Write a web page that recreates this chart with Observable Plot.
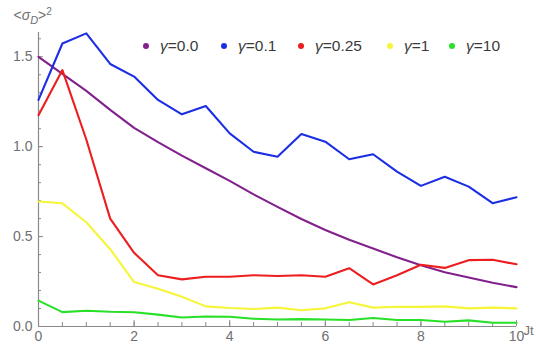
<!DOCTYPE html>
<html>
<head>
<meta charset="utf-8">
<script src="https://cdn.jsdelivr.net/npm/d3@7"></script>
<script src="https://cdn.jsdelivr.net/npm/@observablehq/plot@0.6"></script>
<style>
  html, body { margin: 0; padding: 0; background: #fff; }
  #wrap { position: relative; width: 536px; height: 349px; font-family: "Liberation Sans", Arial, sans-serif; }
  #legend { position: absolute; top: 0; left: 0; font-size: 15.5px; color: #3a3a3a; }
  #legend .item { position: absolute; top: 37px; display: flex; align-items: center; white-space: nowrap; height: 18px; }
  #legend .dot { width: 6px; height: 6px; border-radius: 50%; margin-right: 11px; }
</style>
</head>
<body>
<div id="wrap"><div id="legend"></div></div>
<script>
// time axis Jt, sampled every 0.5
const jt = [0, 0.5, 1, 1.5, 2, 2.5, 3, 3.5, 4, 4.5, 5, 5.5, 6, 6.5, 7, 7.5, 8, 8.5, 9, 9.5, 10];

const gamma00 = [1.50, 1.405, 1.31, 1.205, 1.105, 1.025, 0.95, 0.88, 0.81, 0.735, 0.665, 0.598, 0.537, 0.482, 0.434, 0.385, 0.34, 0.302, 0.272, 0.243, 0.219];
const gamma01 = [1.26, 1.574, 1.63, 1.46, 1.39, 1.26, 1.18, 1.226, 1.074, 0.972, 0.944, 1.07, 1.028, 0.93, 0.958, 0.861, 0.782, 0.833, 0.778, 0.686, 0.719];
const gamma025 = [1.175, 1.426, 1.04, 0.60, 0.41, 0.285, 0.262, 0.277, 0.277, 0.285, 0.281, 0.285, 0.277, 0.324, 0.234, 0.285, 0.343, 0.326, 0.369, 0.371, 0.346];
const gamma1 = [0.695, 0.685, 0.58, 0.43, 0.247, 0.21, 0.165, 0.112, 0.103, 0.097, 0.105, 0.09, 0.101, 0.135, 0.105, 0.11, 0.109, 0.112, 0.101, 0.105, 0.101];
const gamma10 = [0.144, 0.08, 0.088, 0.082, 0.079, 0.066, 0.05, 0.056, 0.054, 0.043, 0.039, 0.041, 0.039, 0.036, 0.047, 0.036, 0.036, 0.026, 0.034, 0.021, 0.021];

const gammaLabels = ["0.0", "0.1", "0.25", "1", "10"];
const seriesNames = gammaLabels.map(g => "γ=" + g);
const seriesColors = ["#82208c", "#1c2de6", "#ec1e1e", "#f6f53a", "#28e028"];
const seriesValues = [gamma00, gamma01, gamma025, gamma1, gamma10];

const xMajor = [0, 2, 4, 6, 8, 10];
const xMinor = d3.range(0, 10.01, 0.5);
const yMajor = [0, 0.5, 1.0, 1.5];
const yMinor = d3.range(0, 1.61, 0.1);

const rows = seriesNames.flatMap((name, i) =>
  jt.map((t, j) => ({series: name, t, v: seriesValues[i][j]}))
);

const W = 536, H = 349;
const mL = 38, mR = 20, mT = 32, mB = 23;
const innerW = W - mL - mR, innerH = H - mT - mB;
const axisGray = "#8a8a8a";
const labelGray = "#707070";

const chart = Plot.plot({
  width: W,
  height: H,
  marginLeft: mL,
  marginRight: mR,
  marginTop: mT,
  marginBottom: mB,
  style: {fontFamily: "'Liberation Sans', Arial, sans-serif", fontSize: "14px", background: "transparent", overflow: "hidden"},
  x: {domain: [0, 10]},
  y: {domain: [0, 1.635]},
  color: {domain: seriesNames, range: seriesColors},
  marks: [
    // axis lines
    Plot.ruleX([0], {stroke: axisGray, strokeWidth: 1.2}),
    Plot.ruleY([0], {stroke: axisGray, strokeWidth: 1.2}),
    // inward ticks
    Plot.tickY(yMinor, {stroke: axisGray, insetRight: innerW - 3}),
    Plot.tickY(yMajor, {stroke: axisGray, insetRight: innerW - 5}),
    Plot.tickX(xMinor, {stroke: axisGray, insetTop: innerH - 4}),
    Plot.tickX(xMajor, {stroke: axisGray, insetTop: innerH - 6}),
    Plot.axisY({ticks: yMajor, tickSize: 0, tickPadding: 6, tickFormat: d3.format(".1f"), label: null, fill: labelGray}),
    Plot.axisX({ticks: xMajor, tickSize: 0, tickPadding: 5, label: null, fill: labelGray}),
    // data
    Plot.line(rows, {x: "t", y: "v", z: "series", stroke: "series", strokeWidth: 2.1, curve: "linear"}),
    // axis labels
    Plot.text(["Jt"], {frameAnchor: "bottom-right", dx: 7, dy: 4, textAnchor: "start", lineAnchor: "middle", fill: labelGray, fontSize: 13}),
    Plot.text(["<σD>2"], {frameAnchor: "top-left", dx: -25, dy: -17, textAnchor: "start", lineAnchor: "middle", fill: labelGray, fontSize: 14, className: "ylab"})
  ]
});

document.getElementById("wrap").prepend(chart);

// rich formatting for the vertical axis label: italic σ, subscript D, superscript 2
const yl = d3.select(chart).select(".ylab text");
yl.text(null);
yl.append("tspan").text("<");
yl.append("tspan").attr("font-style", "italic").text("σ");
yl.append("tspan").attr("font-style", "italic").attr("font-size", 11).attr("dy", 4).text("D");
yl.append("tspan").attr("dy", -4).text(">");
yl.append("tspan").attr("font-size", 10).attr("dy", -5).text("2");

// legend entries, spread along the top of the plot area
const legendLeft = [143, 221, 298, 387, 449];
const legend = d3.select("#legend");
seriesNames.forEach((name, i) => {
  const item = legend.append("div").attr("class", "item").style("left", legendLeft[i] + "px");
  item.append("div").attr("class", "dot").style("background", seriesColors[i]);
  const label = item.append("span");
  label.append("i").text("γ");
  label.append("span").text("=" + gammaLabels[i]);
});
</script>
</body>
</html>
